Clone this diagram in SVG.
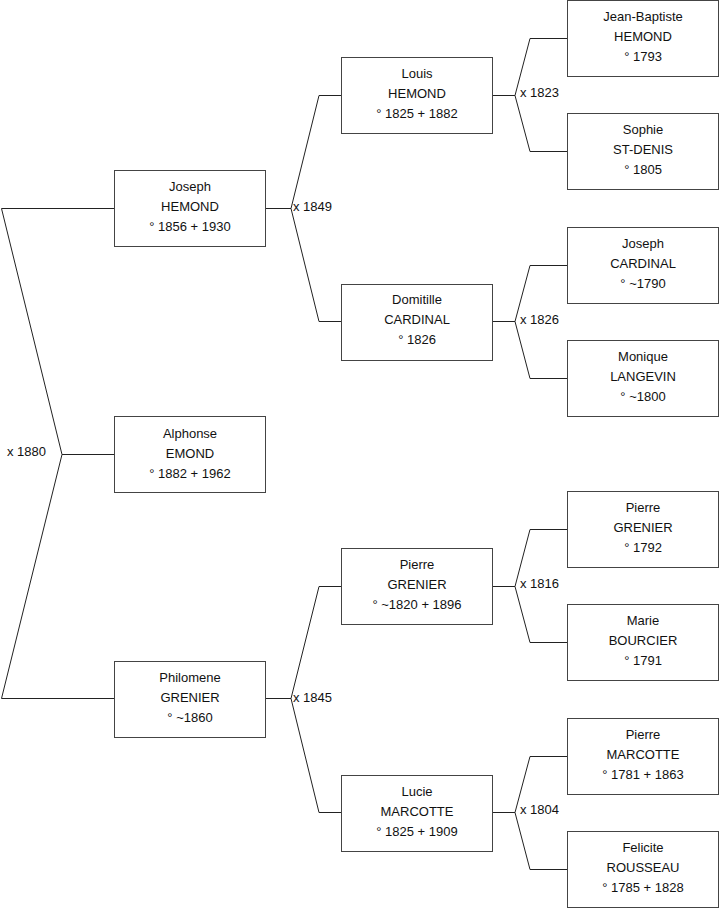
<svg xmlns="http://www.w3.org/2000/svg" width="719" height="908" viewBox="0 0 719 908">
<style>
.b{fill:#fff;stroke:#444;stroke-width:1}
.t{font-family:"Liberation Sans",Arial,sans-serif;font-size:13px;fill:#111;text-anchor:middle}
.l{font-family:"Liberation Sans",Arial,sans-serif;font-size:13px;fill:#111}
.c{fill:none;stroke:#222;stroke-width:1}
</style>
<rect width="719" height="908" fill="#fff"/>
<g id="connectors">
<polyline class="c" points="114,208.5 1.5,208.5 62,454.5 1.5,698.5 114,698.5"/>
<line class="c" x1="62" y1="454.5" x2="114" y2="454.5"/>
<polyline class="c" points="341,95.5 319,95.5 291,208.5 319,321.5 341,321.5"/>
<line class="c" x1="265" y1="208.5" x2="291" y2="208.5"/>
<polyline class="c" points="341,586.5 319,586.5 291,698.5 319,812.5 341,812.5"/>
<line class="c" x1="265" y1="698.5" x2="291" y2="698.5"/>
<polyline class="c" points="567,38.5 530,38.5 515,95.5 530,151.5 567,151.5"/>
<line class="c" x1="492" y1="95.5" x2="515" y2="95.5"/>
<polyline class="c" points="567,265.5 530,265.5 515,321.5 530,378.5 567,378.5"/>
<line class="c" x1="492" y1="321.5" x2="515" y2="321.5"/>
<polyline class="c" points="567,529.5 530,529.5 515,586.5 530,642.5 567,642.5"/>
<line class="c" x1="492" y1="586.5" x2="515" y2="586.5"/>
<polyline class="c" points="567,756.5 530,756.5 515,812.5 530,869.5 567,869.5"/>
<line class="c" x1="492" y1="812.5" x2="515" y2="812.5"/>
<text class="l" x="7" y="456">x 1880</text>
<text class="l" x="293" y="211">x 1849</text>
<text class="l" x="293" y="702">x 1845</text>
<text class="l" x="520" y="97">x 1823</text>
<text class="l" x="520" y="324">x 1826</text>
<text class="l" x="520" y="588">x 1816</text>
<text class="l" x="520" y="814">x 1804</text>
</g>
<g id="alphonse"><rect class="b" x="114.5" y="416.5" width="151" height="76"/><text class="t" x="190" y="438">Alphonse</text><text class="t" x="190" y="458">EMOND</text><text class="t" x="190" y="478">° 1882 + 1962</text></g>
<g id="joseph-hemond"><rect class="b" x="114.5" y="170.5" width="151" height="76"/><text class="t" x="190" y="191">Joseph</text><text class="t" x="190" y="211">HEMOND</text><text class="t" x="190" y="231">° 1856 + 1930</text></g>
<g id="philomene-grenier"><rect class="b" x="114.5" y="661.5" width="151" height="76"/><text class="t" x="190" y="682">Philomene</text><text class="t" x="190" y="702">GRENIER</text><text class="t" x="190" y="722">° ~1860</text></g>
<g id="louis-hemond"><rect class="b" x="341.5" y="57.5" width="151" height="76"/><text class="t" x="417" y="78">Louis</text><text class="t" x="417" y="98">HEMOND</text><text class="t" x="417" y="118">° 1825 + 1882</text></g>
<g id="domitille-cardinal"><rect class="b" x="341.5" y="284.5" width="151" height="76"/><text class="t" x="417" y="304">Domitille</text><text class="t" x="417" y="324">CARDINAL</text><text class="t" x="417" y="344">° 1826</text></g>
<g id="pierre-grenier-1820"><rect class="b" x="341.5" y="548.5" width="151" height="76"/><text class="t" x="417" y="569">Pierre</text><text class="t" x="417" y="589">GRENIER</text><text class="t" x="417" y="609">° ~1820 + 1896</text></g>
<g id="lucie-marcotte"><rect class="b" x="341.5" y="775.5" width="151" height="76"/><text class="t" x="417" y="796">Lucie</text><text class="t" x="417" y="816">MARCOTTE</text><text class="t" x="417" y="836">° 1825 + 1909</text></g>
<g id="jean-baptiste-hemond"><rect class="b" x="567.5" y="0.5" width="151" height="76"/><text class="t" x="643" y="21">Jean-Baptiste</text><text class="t" x="643" y="41">HEMOND</text><text class="t" x="643" y="61">° 1793</text></g>
<g id="sophie-st-denis"><rect class="b" x="567.5" y="113.5" width="151" height="76"/><text class="t" x="643" y="134">Sophie</text><text class="t" x="643" y="154">ST-DENIS</text><text class="t" x="643" y="174">° 1805</text></g>
<g id="joseph-cardinal"><rect class="b" x="567.5" y="227.5" width="151" height="76"/><text class="t" x="643" y="248">Joseph</text><text class="t" x="643" y="268">CARDINAL</text><text class="t" x="643" y="288">° ~1790</text></g>
<g id="monique-langevin"><rect class="b" x="567.5" y="340.5" width="151" height="76"/><text class="t" x="643" y="361">Monique</text><text class="t" x="643" y="381">LANGEVIN</text><text class="t" x="643" y="401">° ~1800</text></g>
<g id="pierre-grenier-1792"><rect class="b" x="567.5" y="491.5" width="151" height="76"/><text class="t" x="643" y="512">Pierre</text><text class="t" x="643" y="532">GRENIER</text><text class="t" x="643" y="552">° 1792</text></g>
<g id="marie-bourcier"><rect class="b" x="567.5" y="604.5" width="151" height="76"/><text class="t" x="643" y="625">Marie</text><text class="t" x="643" y="645">BOURCIER</text><text class="t" x="643" y="665">° 1791</text></g>
<g id="pierre-marcotte"><rect class="b" x="567.5" y="718.5" width="151" height="76"/><text class="t" x="643" y="739">Pierre</text><text class="t" x="643" y="759">MARCOTTE</text><text class="t" x="643" y="779">° 1781 + 1863</text></g>
<g id="felicite-rousseau"><rect class="b" x="567.5" y="831.5" width="151" height="76"/><text class="t" x="643" y="852">Felicite</text><text class="t" x="643" y="872">ROUSSEAU</text><text class="t" x="643" y="892">° 1785 + 1828</text></g>
</svg>
